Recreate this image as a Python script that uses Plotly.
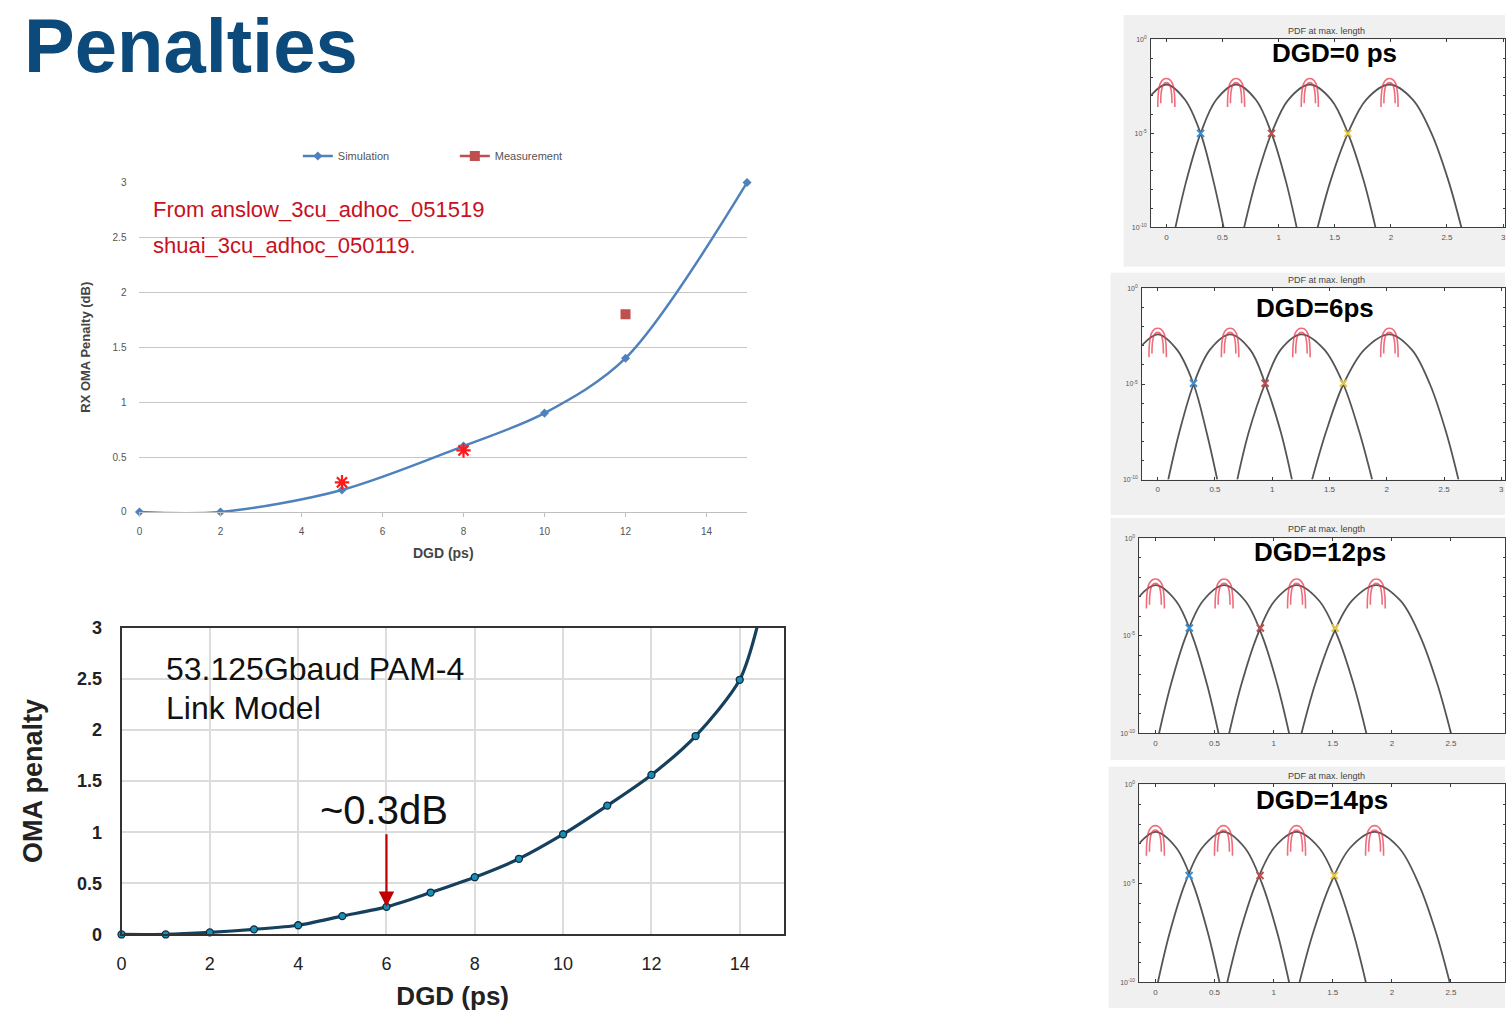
import plotly.graph_objects as go

W, H = 1506, 1018
FONT = "Liberation Sans, Arial, sans-serif"

# ---------------- Chart 1 (Excel style) ----------------
SIM_X = [0, 2, 5, 8, 10, 12, 15]
SIM_Y = [0, 0, 0.2, 0.6, 0.9, 1.4, 3.0]
MEAS_X = [12]
MEAS_Y = [1.8]
STAR_X = [5, 8]
STAR_Y = [0.27, 0.56]
C1_YTICKS = [0, 0.5, 1, 1.5, 2, 2.5, 3]
C1_YTEXT = ["0", "0.5", "1", "1.5", "2", "2.5", "3"]
C1_XTICKS = [0, 2, 4, 6, 8, 10, 12, 14]

# ---------------- Chart 2 (link model) ----------------
LINK_X = [0, 1, 2, 3, 4, 5, 6, 7, 8, 9, 10, 11, 12, 13, 14]
LINK_Y = [0, 0.0, 0.02, 0.05, 0.09, 0.18, 0.27, 0.41, 0.56, 0.74, 0.98, 1.26, 1.56, 1.94, 2.49]
LINK_TAIL_X = [14.42]
LINK_TAIL_Y = [3.05]
C2_XTICKS = [0, 2, 4, 6, 8, 10, 12, 14]
C2_YTICKS = [0, 0.5, 1, 1.5, 2, 2.5, 3]
C2_YTEXT = ["0", "0.5", "1", "1.5", "2", "2.5", "3"]
ARROW_X, ARROW_Y = 6, 0.27

# ---------------- PDF panels (MATLAB style) ----------------
PANEL_LABELS = ["DGD=0 ps", "DGD=6ps", "DGD=12ps", "DGD=14ps"]
# y values are log10 exponents
FIRST_EXP = [-2.97, -2.4, -3.2, -5, -7.5, -10]
FULL_EXP = [-10, -7.5, -5, -3.2, -2.4, -3.2, -5, -7.5, -10]

P0_C1 = [-0.136, 0, 0.165, 0.305, 0.418, 0.51]
P0_C2 = [0.081, 0.179, 0.305, 0.446, 0.621, 0.796, 0.937, 1.063, 1.161]
P0_C3 = [0.693, 0.799, 0.936, 1.088, 1.278, 1.468, 1.618, 1.757, 1.863]
P0_C4 = [1.348, 1.464, 1.617, 1.781, 1.988, 2.195, 2.362, 2.512, 2.628]
P0_PEAKS = [0, 0.621, 1.278, 1.988]
P0_CROSS_X = [0.305, 0.937, 1.617]
P0_CROSS_EXP = [-5, -5, -5]

P1_C1 = [-0.136, 0, 0.168, 0.313, 0.426, 0.52]
P1_C2 = [0.092, 0.19, 0.314, 0.457, 0.632, 0.807, 0.94, 1.074, 1.172]
P1_C3 = [0.695, 0.796, 0.936, 1.074, 1.255, 1.455, 1.62, 1.76, 1.872]
P1_C4 = [1.348, 1.47, 1.622, 1.804, 2.023, 2.218, 2.376, 2.517, 2.626]
P1_PEAKS = [0, 0.632, 1.255, 2.023]
P1_CROSS_X = [0.313, 0.938, 1.621]
P1_CROSS_EXP = [-4.96, -4.96, -4.96]

P2_C1 = [-0.135, 0, 0.173, 0.312, 0.437, 0.534]
P2_C2 = [0.031, 0.131, 0.259, 0.403, 0.581, 0.759, 0.903, 1.031, 1.131]
P2_C3 = [0.624, 0.727, 0.861, 1.009, 1.194, 1.385, 1.539, 1.677, 1.784]
P2_C4 = [1.236, 1.35, 1.498, 1.663, 1.868, 2.073, 2.238, 2.386, 2.5]
P2_PEAKS = [0, 0.581, 1.194, 1.868]
P2_CROSS_X = [0.287, 0.888, 1.52]
P2_CROSS_EXP = [-4.6, -4.6, -4.6]

P3_C1 = [-0.135, 0, 0.176, 0.317, 0.444, 0.542]
P3_C2 = [0.021, 0.121, 0.251, 0.396, 0.576, 0.756, 0.901, 1.031, 1.131]
P3_C3 = [0.608, 0.714, 0.851, 1.004, 1.194, 1.384, 1.537, 1.674, 1.78]
P3_C4 = [1.219, 1.334, 1.483, 1.648, 1.854, 2.06, 2.225, 2.374, 2.489]
P3_PEAKS = [0, 0.576, 1.194, 1.854]
P3_CROSS_X = [0.285, 0.885, 1.513]
P3_CROSS_EXP = [-4.6, -4.6, -4.6]

RED_OUTER_DX = [-0.076, -0.072, -0.055, -0.025, 0, 0.025, 0.055, 0.072, 0.076]
RED_OUTER_EXP = [-3.6, -2.9, -2.35, -2.12, -2.08, -2.12, -2.35, -2.9, -3.6]
RED_INNER_DX = [-0.05, -0.047, -0.035, -0.015, 0, 0.015, 0.035, 0.047, 0.05]
RED_INNER_EXP = [-3.4, -2.9, -2.5, -2.32, -2.3, -2.32, -2.5, -2.9, -3.4]
CROSS_COLORS = ["#3b8fd4", "#c0504d", "#e6c64a"]
PDF_XTICKS = [0, 0.5, 1, 1.5, 2, 2.5, 3]
PDF_XTEXT = ["0", "0.5", "1", "1.5", "2", "2.5", "3"]
PDF_YLABEL_EXP = [-10, -5, 0]
PDF_YMINOR_EXP = [-9, -8, -7, -6, -4, -3, -2, -1]

PANEL_CURVES = [
    [P0_C1, P0_C2, P0_C3, P0_C4],
    [P1_C1, P1_C2, P1_C3, P1_C4],
    [P2_C1, P2_C2, P2_C3, P2_C4],
    [P3_C1, P3_C2, P3_C3, P3_C4],
]
PANEL_PEAKS = [P0_PEAKS, P1_PEAKS, P2_PEAKS, P3_PEAKS]
PANEL_CROSS_X = [P0_CROSS_X, P1_CROSS_X, P2_CROSS_X, P3_CROSS_X]
PANEL_CROSS_EXP = [P0_CROSS_EXP, P1_CROSS_EXP, P2_CROSS_EXP, P3_CROSS_EXP]

# ------------- layout geometry (page pixels) -------------
def px_x(p):
    return p / W

def px_y(p):
    return 1 - p / H

# panel plot areas: (left px, top px, bottom px, px of x=0, px per unit)
PANEL_BOX = [
    (1150.7, 30, 221.7, 1166.0, 112.7),
    (1141.7, 284, 479, 1157.3, 115.0),
    (1139, 539, 737.7, 1155.0, 118.7),
    (1139, 790, 991.7, 1155.0, 118.7),
]
PANEL_BG = [(1123, 5, 262), (1110, 268, 515), (1110, 518, 765), (1108, 772, 1018)]
PANEL_TITLE_Y = [21, 275, 529, 781]
PANEL_LABEL_POS = [(1335, 44), (1315, 304), (1320, 553), (1322, 806)]

fig = go.Figure()

# ---- chart 1 traces ----
fig.add_trace(go.Scatter(
    x=SIM_X, y=SIM_Y, name="Simulation", mode="lines+markers",
    line=dict(color="#4f81bd", width=2.5, shape="spline", smoothing=0.9),
    marker=dict(symbol="diamond", size=7, color="#4f81bd"),
    xaxis="x", yaxis="y", cliponaxis=False))
fig.add_trace(go.Scatter(
    x=MEAS_X, y=MEAS_Y, name="Measurement", mode="lines+markers",
    line=dict(color="#c0504d", width=2.5),
    marker=dict(symbol="square", size=10, color="#c0504d"),
    xaxis="x", yaxis="y"))
fig.add_trace(go.Scatter(
    x=STAR_X, y=STAR_Y, mode="markers", showlegend=False,
    marker=dict(symbol="asterisk-open", size=12, color="#ff1a1a",
                line=dict(color="#ff1a1a", width=2.2)),
    xaxis="x", yaxis="y"))

# ---- chart 2 traces ----
fig.add_trace(go.Scatter(
    x=LINK_X + LINK_TAIL_X, y=LINK_Y + LINK_TAIL_Y, mode="lines", showlegend=False,
    line=dict(color="#15405e", width=3.2, shape="spline", smoothing=0.8),
    xaxis="x2", yaxis="y2"))
fig.add_trace(go.Scatter(
    x=LINK_X, y=LINK_Y, mode="markers", showlegend=False, cliponaxis=False,
    marker=dict(symbol="circle", size=7, color="#1a8fb5", line=dict(color="#0d2c40", width=1.3)),
    xaxis="x2", yaxis="y2"))

# ---- PDF panels ----
for i in range(4):
    xa = "x%d" % (i + 3)
    ya = "y%d" % (i + 3)
    for k, cx in enumerate(PANEL_CURVES[i]):
        exps = FIRST_EXP if k == 0 else FULL_EXP
        fig.add_trace(go.Scatter(
            x=cx, y=[10 ** e for e in exps], mode="lines", showlegend=False,
            line=dict(color="rgba(55,55,55,0.85)", width=1.8, shape="spline", smoothing=1.0),
            xaxis=xa, yaxis=ya))
    for c in PANEL_PEAKS[i]:
        for dxs, exs in ((RED_OUTER_DX, RED_OUTER_EXP), (RED_INNER_DX, RED_INNER_EXP)):
            fig.add_trace(go.Scatter(
                x=[c + d for d in dxs], y=[10 ** e for e in exs], mode="lines",
                showlegend=False,
                line=dict(color="rgba(232,60,80,0.75)", width=1.6, shape="spline"),
                xaxis=xa, yaxis=ya))
    fig.add_trace(go.Scatter(
        x=PANEL_CROSS_X[i], y=[10 ** e for e in PANEL_CROSS_EXP[i]], mode="markers",
        showlegend=False,
        marker=dict(symbol="x-thin-open", size=7, color=CROSS_COLORS,
                    line=dict(color=CROSS_COLORS, width=2)),
        xaxis=xa, yaxis=ya))

layout = dict(
    width=W, height=H, margin=dict(l=0, r=0, t=0, b=0),
    paper_bgcolor="white", plot_bgcolor="white",
    font=dict(family=FONT, color="#333"),
    showlegend=True,
    legend=dict(orientation="h", x=px_x(294), y=px_y(149), xanchor="left", yanchor="middle",
                font=dict(size=11, color="#555"), bgcolor="rgba(0,0,0,0)",
                entrywidth=112, entrywidthmode="pixels", itemwidth=30),
    xaxis=dict(domain=[px_x(135), px_x(745)], range=[0, 15], anchor="y",
               tickvals=C1_XTICKS, showgrid=False, zeroline=False,
               showline=True, linecolor="#bfbfbf", linewidth=1,
               ticks="outside", ticklen=4, tickcolor="#bfbfbf",
               tickfont=dict(size=10, color="#555"), ticklabelstandoff=6,
               title=dict(text="<b>DGD (ps)</b>", font=dict(size=14, color="#444"), standoff=12)),
    yaxis=dict(domain=[px_y(512), px_y(176)], range=[0, 3], anchor="x",
               tickvals=C1_YTICKS, ticktext=C1_YTEXT, showgrid=True, gridcolor="#c6c6c6",
               gridwidth=1, zeroline=False, showline=False,
               tickfont=dict(size=10, color="#555"), ticklabelstandoff=12,
               title=dict(text="<b>RX OMA Penalty (dB)</b>", font=dict(size=13, color="#444"),
                          standoff=18)),
    xaxis2=dict(domain=[px_x(117), px_x(782)], range=[0, 15], anchor="y2",
                tickvals=C2_XTICKS, showgrid=True, gridcolor="#dcdcdc", gridwidth=1.5,
                zeroline=False, showline=True, mirror=True, linecolor="#333", linewidth=2,
                tickfont=dict(size=18, color="#222", family=FONT), ticklabelstandoff=12,
                tickprefix="<b>", ticksuffix="</b>",
                title=dict(text="<b>DGD (ps)</b>", font=dict(size=26, color="#222"), standoff=14)),
    yaxis2=dict(domain=[px_y(943), px_y(630)], range=[0, 3], anchor="x2",
                tickvals=C2_YTICKS, ticktext=["<b>%s</b>" % t for t in C2_YTEXT],
                showgrid=True, gridcolor="#dcdcdc", gridwidth=1.5,
                zeroline=False, showline=True, mirror=True, linecolor="#333", linewidth=2,
                tickfont=dict(size=18, color="#222"), ticklabelstandoff=14,
                title=dict(text="<b>OMA penalty</b>", font=dict(size=27, color="#222"), standoff=26)),
)

shapes = []
annotations = []
for i in range(4):
    left, top, bottom, zero_px, per_unit = PANEL_BOX[i]
    xr = [(left - zero_px) / per_unit, (W - zero_px) / per_unit]
    bgl, bgt, bgb = PANEL_BG[i]
    shapes.append(dict(type="rect", xref="paper", yref="paper", layer="below",
                       x0=px_x(bgl), x1=1, y0=max(0, px_y(bgb)), y1=px_y(bgt),
                       fillcolor="#f0f0f0", line=dict(width=0)))
    shapes.append(dict(type="rect", xref="paper", yref="paper", layer="below",
                       x0=px_x(left), x1=1, y0=px_y(bottom), y1=px_y(top),
                       fillcolor="white", line=dict(width=0)))
    n = i + 3
    layout["xaxis%d" % n] = dict(
        domain=[px_x(left), 1], range=xr, anchor="y%d" % n,
        tickvals=PDF_XTICKS, ticktext=PDF_XTEXT, showgrid=False, zeroline=False,
        showline=True, mirror="ticks", linecolor="#3c3c3c", linewidth=1,
        ticks="inside", ticklen=3, tickcolor="#3c3c3c",
        tickfont=dict(size=8, color="#555"), ticklabelstandoff=2)
    layout["yaxis%d" % n] = dict(
        domain=[px_y(bottom), px_y(top)], type="log", range=[-10, 0], anchor="x%d" % n,
        tickvals=[10 ** e for e in PDF_YLABEL_EXP],
        ticktext=["10<sup>%d</sup>" % e for e in PDF_YLABEL_EXP],
        minor=dict(tickvals=[10 ** e for e in PDF_YMINOR_EXP], ticks="inside", ticklen=2,
                   tickcolor="#3c3c3c", showgrid=False),
        showgrid=False, zeroline=False,
        showline=True, mirror="ticks", linecolor="#3c3c3c", linewidth=1,
        ticks="inside", ticklen=3, tickcolor="#3c3c3c",
        tickfont=dict(size=7, color="#555"), ticklabelstandoff=2)
    annotations.append(dict(text="PDF at max. length", xref="paper", yref="paper",
                            x=px_x(1327), y=px_y(PANEL_TITLE_Y[i]), xanchor="center",
                            yanchor="middle", showarrow=False,
                            font=dict(size=9, color="#444")))
    lx, ly = PANEL_LABEL_POS[i]
    annotations.append(dict(text="<b>%s</b>" % PANEL_LABELS[i], xref="paper", yref="paper",
                            x=px_x(lx), y=px_y(ly), xanchor="center", yanchor="middle",
                            showarrow=False, font=dict(size=26, color="#000", family=FONT)))

# title
annotations.append(dict(text="<b>Penalties</b>", xref="paper", yref="paper",
                        x=px_x(17), y=px_y(36), xanchor="left", yanchor="middle",
                        showarrow=False, font=dict(size=76, color="#0b4a7b", family=FONT)))
# chart 1 texts
annotations.append(dict(text="From anslow_3cu_adhoc_051519", xref="paper", yref="paper",
                        x=px_x(147), y=px_y(203), xanchor="left", yanchor="middle",
                        showarrow=False, font=dict(size=22, color="#c8101e")))
annotations.append(dict(text="shuai_3cu_adhoc_050119.", xref="paper", yref="paper",
                        x=px_x(147), y=px_y(240), xanchor="left", yanchor="middle",
                        showarrow=False, font=dict(size=22, color="#c8101e")))
# chart 2 texts
annotations.append(dict(text="53.125Gbaud PAM-4", xref="paper", yref="paper",
                        x=px_x(160), y=px_y(672), xanchor="left", yanchor="middle",
                        showarrow=False, font=dict(size=32, color="#111")))
annotations.append(dict(text="Link Model", xref="paper", yref="paper",
                        x=px_x(160), y=px_y(712), xanchor="left", yanchor="middle",
                        showarrow=False, font=dict(size=32, color="#111")))
annotations.append(dict(text="~0.3dB", xref="paper", yref="paper",
                        x=px_x(381), y=px_y(816), xanchor="center", yanchor="middle",
                        showarrow=False, font=dict(size=40, color="#111")))
annotations.append(dict(text="", x=ARROW_X, y=ARROW_Y, xref="x2", yref="y2",
                        showarrow=True, ax=0, ay=-74, arrowhead=2, arrowsize=1.4,
                        arrowwidth=2.2, arrowcolor="#c00000", standoff=0))

layout["shapes"] = shapes
layout["annotations"] = annotations
fig.update_layout(**layout)
fig.write_html("out.html")
